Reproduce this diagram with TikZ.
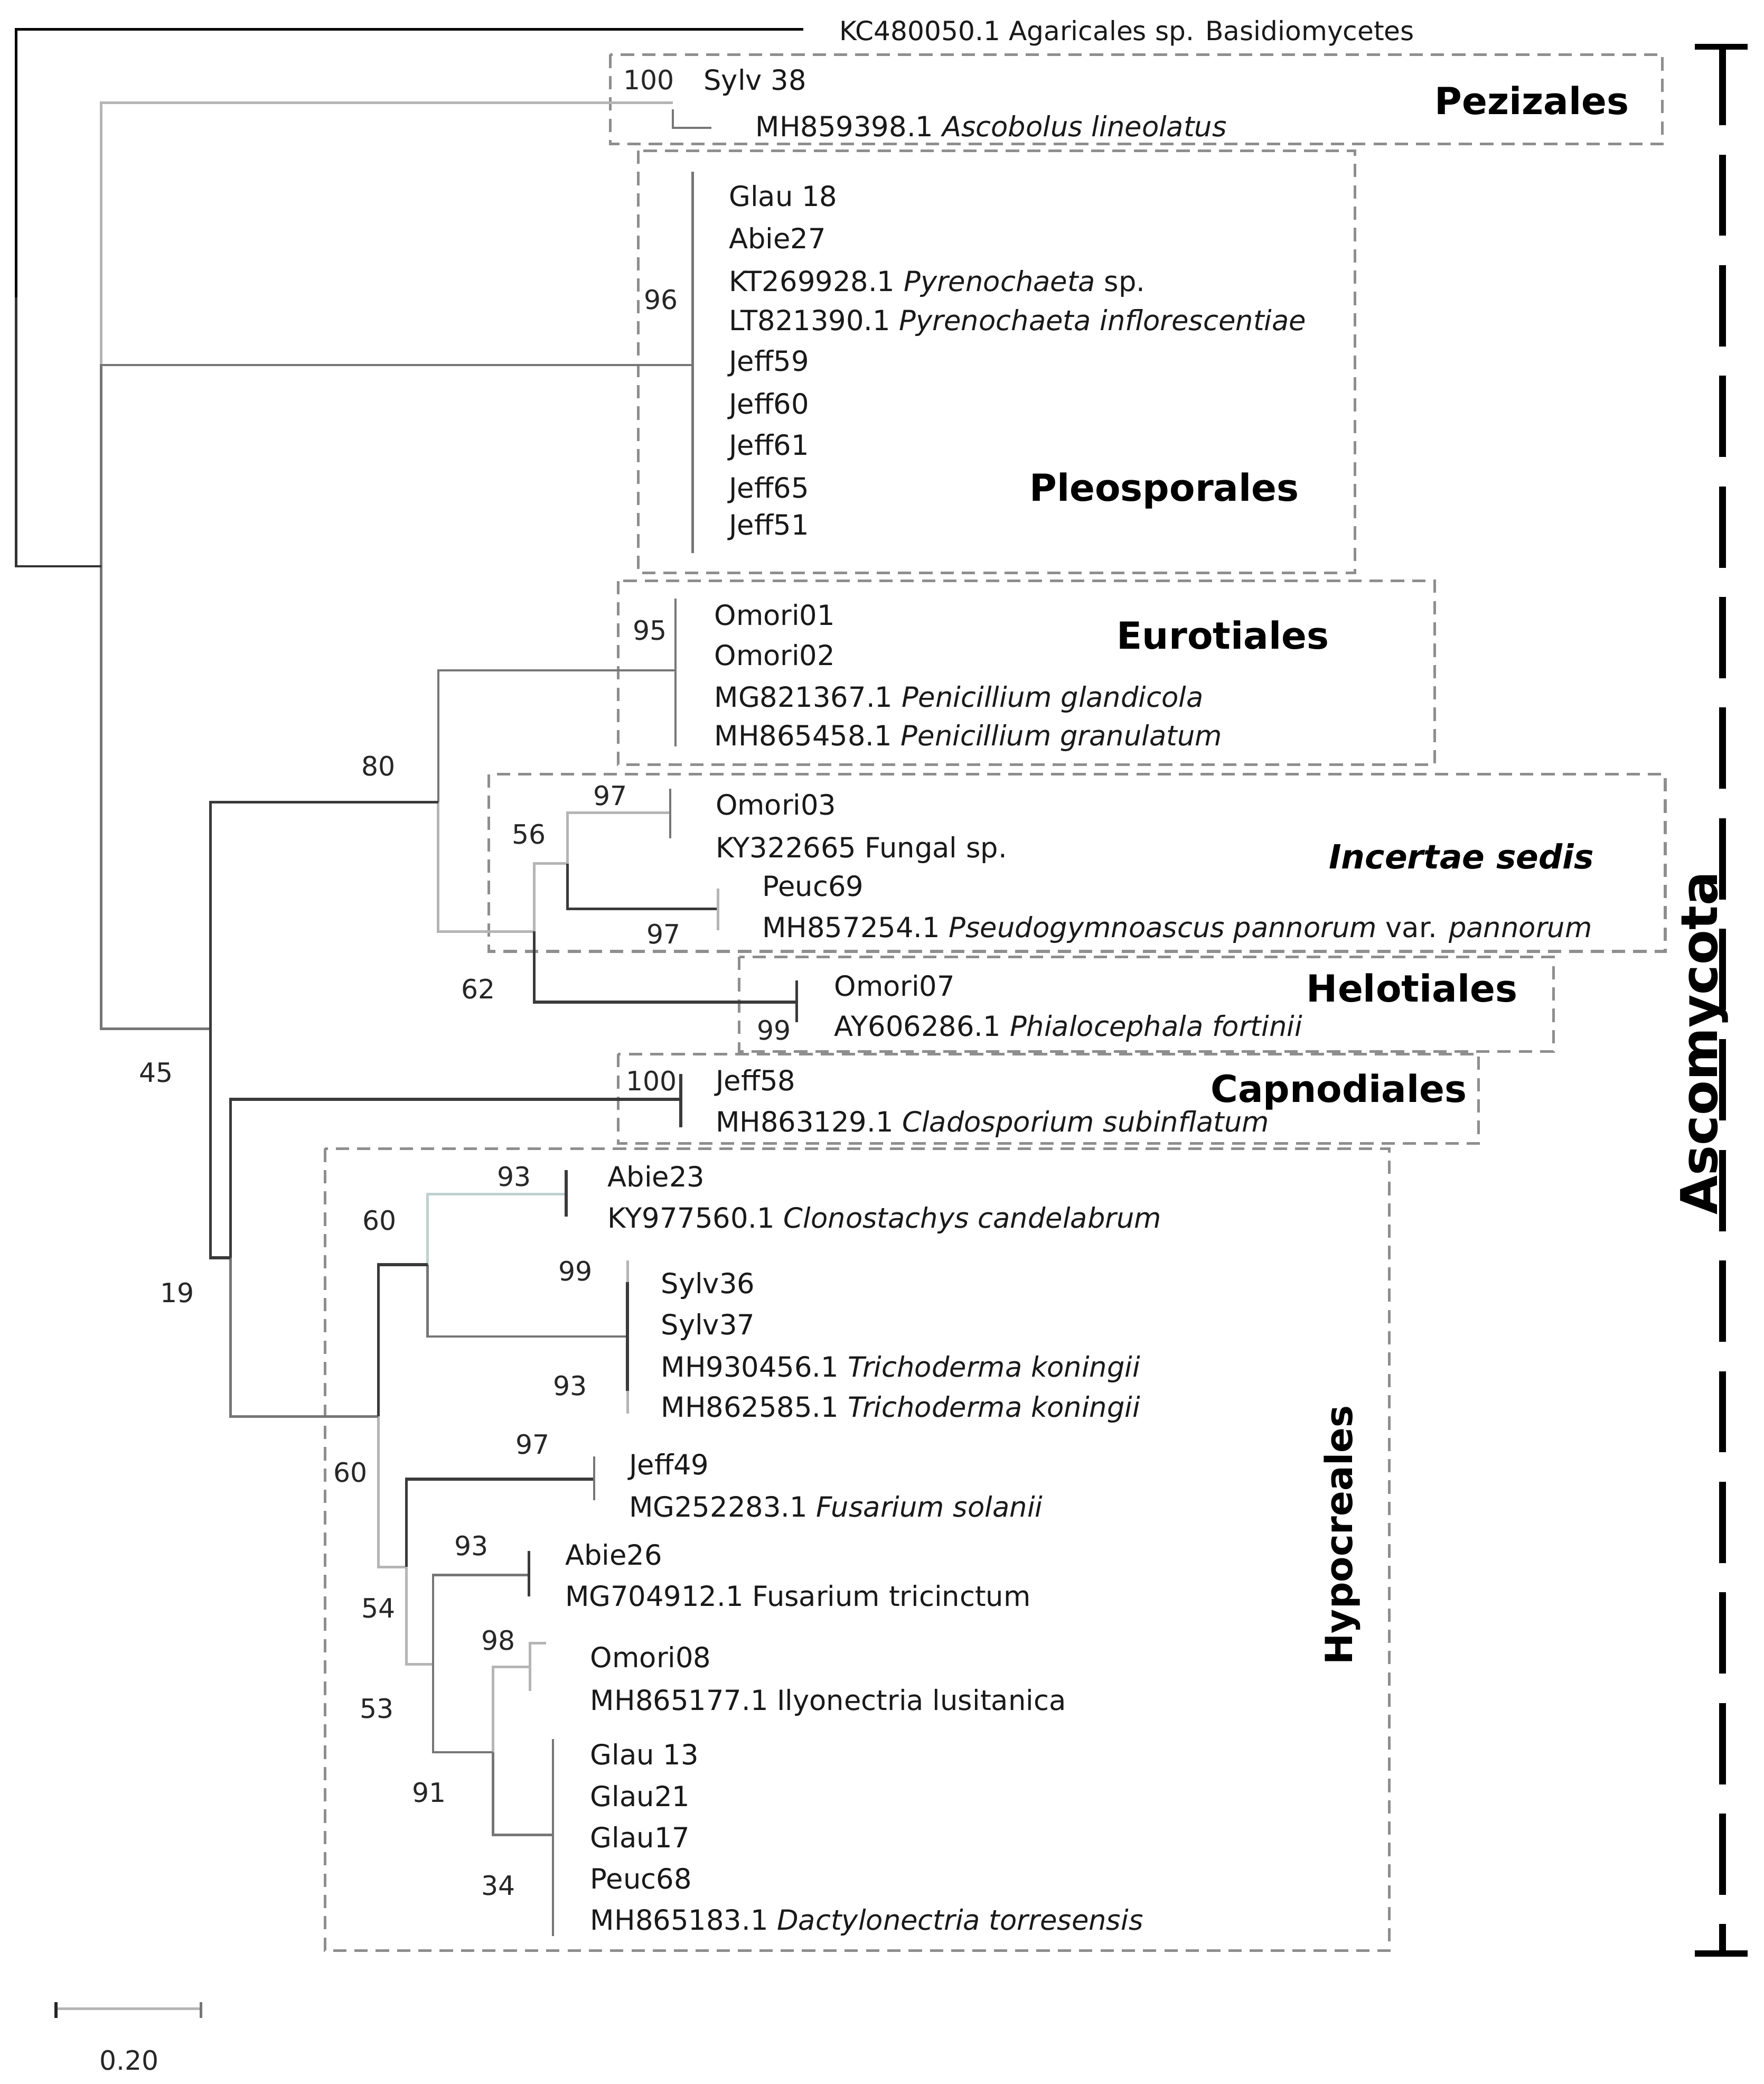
\documentclass[tikz,border=0pt]{standalone}
\usepackage{fontspec}
\setmainfont{DejaVu Sans}
\definecolor{dk}{HTML}{3A3A3A}
\definecolor{md}{HTML}{767676}
\definecolor{lt}{HTML}{B5B5B5}
\definecolor{cy}{HTML}{BFD0D0}
\definecolor{boxgray}{HTML}{8E8E8E}
\begin{document}
\begin{tikzpicture}[x=1pt,y=-1pt,
  lab/.style={anchor=west,inner sep=0pt,text height=15pt,text depth=0pt,font=\fontsize{20.9}{24}\selectfont,text=black!90},
  bs/.style={anchor=center,inner sep=0pt,text height=14.6pt,text depth=0pt,font=\fontsize{20}{24}\selectfont,text=black!85},
  grp/.style={anchor=base,inner sep=0pt,font=\fontsize{28}{32}\selectfont\bfseries},
  grpbox/.style={draw=boxgray,line width=2pt,dash pattern=on 10pt off 6pt},
  bd/.style={draw=dk,line width=2.2pt},
  bm/.style={draw=md,line width=1.8pt},
  bl/.style={draw=lt,line width=2pt},
  bc/.style={draw=cy,line width=2pt},
]
\useasboundingbox (0,0) rectangle (1324,1564);

% ---------- group boxes ----------
\draw[grpbox] (458,41) rectangle (1248,108);
\draw[grpbox] (479,113) rectangle (1017,430);
\draw[grpbox] (464,436) rectangle (1077,574);
\draw[grpbox] (367,581) rectangle (1250,714);
\draw[grpbox] (555,718) rectangle (1166,789);
\draw[grpbox] (464,791) rectangle (1110,858);
\draw[grpbox] (244,862) rectangle (1043,1464);

% ---------- tree node coordinates ----------
\coordinate (R) at (12,223);
\coordinate (out) at (603,22);
\coordinate (A) at (76,425);
\coordinate (Pez) at (505,77);
\coordinate (Pleo) at (520,274);
\coordinate (B) at (158,772);
\coordinate (C) at (329,602);
\coordinate (D) at (173,944);
\coordinate (Eur) at (507,503);
\coordinate (F) at (401,699);
\coordinate (G) at (426,648);
\coordinate (Hel) at (598,752);
\coordinate (O3) at (503,610);
\coordinate (P69) at (539,682);
\coordinate (Cap) at (511,825);
\coordinate (E) at (284,1063);
\coordinate (H) at (321,949);
\coordinate (I) at (305,1176);
\coordinate (Ab23) at (425,896);
\coordinate (Tri) at (471,1003);
\coordinate (J49) at (446,1110);
\coordinate (J) at (325,1249);
\coordinate (Ab26) at (397,1182);
\coordinate (K) at (370,1315);
\coordinate (O8) at (398,1251);
\coordinate (Gl) at (415,1377);

% ---------- branches ----------
\draw[bl] (A) |- (Pez);
\draw[bl] (C) |- (F);
\draw[bl] (F) |- (G);
\draw[bl] (G) |- (O3);
\draw[bl] (E) |- (I);
\draw[bl] (I) |- (J);
\draw[bl] (K) |- (O8);
\draw[bc] (H) |- (Ab23);
\draw[bm] (A) |- (Pleo);
\draw[bm] (A) |- (B);
\draw[bm] (C) |- (Eur);
\draw[bm] (D) |- (E);
\draw[bm] (H) |- (Tri);
\draw[bm] (J) |- (Ab26);
\draw[bm] (J) |- (K);
\draw[bm] (K) |- (Gl);
\draw[bd] (B) |- (C);
\draw[bd] (B) |- (D);
\draw[bd] (F) |- (Hel);
\draw[bd] (G) |- (P69);
\draw[bd] (D) |- (Cap);
\draw[bd] (E) |- (H);
\draw[bd] (I) |- (J49);
\draw[draw=black!80,line width=1.8pt] (R) |- (A);
\draw[draw=black,line width=1.8pt] (R) |- (out);

% ---------- clade tips ----------
\draw[bm] ([yshift=-5pt]Pez) -- (505,96) -- (534,96);
\draw[bm] (520,129) -- (520,415);
\draw[bm] (507,449) -- (507,560);
\draw[bm] (503,592) -- (503,629);
\draw[bl] (539,667) -- (539,698);
\draw[bd] (598,736) -- (598,767);
\draw[bd] (511,806) -- (511,846);
\draw[bd] (425,878) -- (425,913);
\draw[bl] (471,946) -- (471,1061);
\draw[bd] (471,962) -- (471,1044);
\draw[bm] (446,1093) -- (446,1126);
\draw[bd] (397,1164) -- (397,1198);
\draw[bl] (410,1233) -- (398,1233) -- (398,1269);
\draw[bm] (415,1305) -- (415,1453);

% ---------- taxon labels ----------
\node[lab,font=\fontsize{19.9}{24}\selectfont] (t0) at (630,23) {KC480050.1 Agaricales sp. Basidiomycetes};
\node[lab] (t1) at (528,60) {Sylv 38};
\node[lab] (t2) at (567,95) {MH859398.1 \textit{Ascobolus lineolatus}};
\node[lab] (t3) at (547,147.5) {Glau 18};
\node[lab] (t4) at (547,179) {Abie27};
\node[lab] (t5) at (547,211) {KT269928.1 \textit{Pyrenochaeta} sp.};
\node[lab] (t6) at (547,240.5) {LT821390.1 \textit{Pyrenochaeta inflorescentiae}};
\node[lab] (t7) at (547,271) {Jeff59};
\node[lab] (t8) at (547,303) {Jeff60};
\node[lab] (t9) at (547,334) {Jeff61};
\node[lab] (t10) at (547,366) {Jeff65};
\node[lab] (t11) at (547,394) {Jeff51};
\node[lab] (t12) at (536,461.5) {Omori01};
\node[lab] (t13) at (536,492) {Omori02};
\node[lab] (t14) at (536,523) {MG821367.1 \textit{Penicillium glandicola}};
\node[lab] (t15) at (536,552) {MH865458.1 \textit{Penicillium granulatum}};
\node[lab] (t16) at (537,604) {Omori03};
\node[lab] (t17) at (537,636) {KY322665 Fungal sp.};
\node[lab] (t18) at (572,665) {Peuc69};
\node[lab] (t19) at (572,696) {MH857254.1 \textit{Pseudogymnoascus pannorum} var. \textit{pannorum}};
\node[lab] (t20) at (626,740) {Omori07};
\node[lab] (t21) at (626,770) {AY606286.1 \textit{Phialocephala fortinii}};
\node[lab] (t22) at (537,811) {Jeff58};
\node[lab] (t23) at (537,842) {MH863129.1 \textit{Cladosporium subinflatum}};
\node[lab] (t24) at (456,883) {Abie23};
\node[lab] (t25) at (456,914) {KY977560.1 \textit{Clonostachys candelabrum}};
\node[lab] (t26) at (496,963) {Sylv36};
\node[lab] (t27) at (496,994) {Sylv37};
\node[lab] (t28) at (496,1026) {MH930456.1 \textit{Trichoderma koningii}};
\node[lab] (t29) at (496,1056) {MH862585.1 \textit{Trichoderma koningii}};
\node[lab] (t30) at (472,1099) {Jeff49};
\node[lab] (t31) at (472,1131) {MG252283.1 \textit{Fusarium solanii}};
\node[lab] (t32) at (424,1167) {Abie26};
\node[lab] (t33) at (424,1198) {MG704912.1 Fusarium tricinctum};
\node[lab] (t34) at (443,1244) {Omori08};
\node[lab] (t35) at (443,1276) {MH865177.1 Ilyonectria lusitanica};
\node[lab] (t36) at (443,1317) {Glau 13};
\node[lab] (t37) at (443,1348) {Glau21};
\node[lab] (t38) at (443,1379) {Glau17};
\node[lab] (t39) at (443,1410) {Peuc68};
\node[lab] (t40) at (443,1441) {MH865183.1 \textit{Dactylonectria torresensis}};

% ---------- bootstrap values ----------
\node[bs] (b1) at (487,60) {100};
\node[bs] (b2) at (496,225) {96};
\node[bs] (b3) at (488,473) {95};
\node[bs] (b4) at (284,575) {80};
\node[bs] (b5) at (458,597) {97};
\node[bs] (b6) at (397,626) {56};
\node[bs] (b7) at (498,701) {97};
\node[bs] (b8) at (359,742) {62};
\node[bs] (b9) at (581,773) {99};
\node[bs] (b10) at (117,805) {45};
\node[bs] (b11) at (489,811) {100};
\node[bs] (b12) at (133,970) {19};
\node[bs] (b13) at (386,883) {93};
\node[bs] (b14) at (285,916) {60};
\node[bs] (b15) at (432,954) {99};
\node[bs] (b16) at (428,1040) {93};
\node[bs] (b17) at (400,1084) {97};
\node[bs] (b18) at (263,1105) {60};
\node[bs] (b19) at (354,1160) {93};
\node[bs] (b20) at (284,1207) {54};
\node[bs] (b21) at (374,1231) {98};
\node[bs] (b22) at (283,1282) {53};
\node[bs] (b23) at (322,1345) {91};
\node[bs] (b24) at (374,1415) {34};

% ---------- group names ----------
\node[grp] (g1) at (1150,86) {Pezizales};
\node[grp] (g2) at (874,376) {Pleosporales};
\node[grp] (g3) at (918,487) {Eurotiales};
\node[grp,font=\fontsize{25}{30}\selectfont\bfseries\itshape] (g4) at (1097,652) {Incertae sedis};
\node[grp] (g5) at (1060,752) {Helotiales};
\node[grp] (g6) at (1005,827) {Capnodiales};
\node[grp,rotate=90] (g7) at (1015,1152) {Hypocreales};

% ---------- Ascomycota bar ----------
\draw[line width=5pt,dash pattern=on 61pt off 22pt] (1293,33) -- (1293,1468);
\draw[line width=4.5pt] (1272,35) -- (1312,35);
\draw[line width=4.5pt] (1272,1466) -- (1312,1466);
\node[grp,rotate=90,font=\fontsize{38}{44}\selectfont\bfseries] (asc) at (1289,783) {Ascomycota};

% ---------- scale bar ----------
\coordinate (s1) at (42,1507.5);
\coordinate (s2) at (151,1507.5);
\draw[bl,line width=2.2pt] (s1) -- (s2);
\draw[draw=black!85,line width=2.5pt] ([yshift=-7pt]s1) -- ([yshift=5pt]s1);
\draw[draw=md,line width=2pt] ([yshift=-7pt]s2) -- ([yshift=5pt]s2);
\node[bs] (scl) at (97,1546) {0.20};
\end{tikzpicture}
\end{document}
